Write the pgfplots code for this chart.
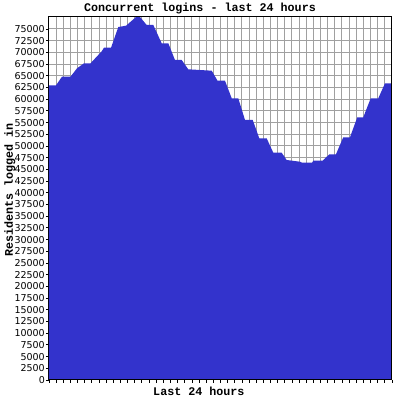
\documentclass[border=0pt]{standalone}
\usepackage{pgfplots}
\pgfplotsset{compat=1.18}
\usepackage{fontspec}
\newfontfamily\monob{Liberation Mono}
\newfontfamily\ticksf{DejaVu Sans}
\definecolor{fillblue}{RGB}{51,51,204}
\definecolor{gridgray}{RGB}{160,160,160}
\begin{document}
\begin{tikzpicture}
\path[use as bounding box] (0pt,0pt) rectangle (400pt,400pt);
\begin{axis}[
  at={(49pt,20pt)}, anchor=south west,
  scale only axis, width=343pt, height=363pt,
  xmin=0, xmax=48, ymin=0, ymax=77564,
  xtick={0,...,48}, xticklabels={},
  ytick={0,2500,...,75000},
  grid=major, grid style={gridgray, line width=1pt},
  axis line style={black, line width=1pt},
  tick pos=left,
  tick align=outside, major tick length=3pt, tick style={black, line width=0.8pt},
  scaled y ticks=false,
  yticklabel style={font=\ticksf\fontsize{9.5}{10}\selectfont, /pgf/number format/1000 sep={}, /pgf/number format/assume math mode=true, inner sep=1pt},
  xlabel={Last 24 hours},
  xlabel style={font=\monob\bfseries\fontsize{11.7}{12}\selectfont, at={(axis description cs:0.437,-0.0427)}, anchor=base},
  ylabel={Residents logged in},
  ylabel style={font=\monob\bfseries\fontsize{11.7}{12}\selectfont, at={(axis description cs:-0.105,0.523)}, anchor=base},
]
\addplot[fill=fillblue, draw=none] coordinates {
(0,62970) (0.98,62970) (1.82,64808) (3.01,64808) (3.92,66603) (4.90,67671) (5.81,67671)
(7.35,70192) (7.70,71004) (8.68,71004) (9.70,75427) (10.78,75705) (12.18,77564) (12.74,77564)
(13.67,75855) (14.60,75855) (15.77,71944) (16.70,71944) (17.63,68376) (18.57,68376)
(19.49,66389) (22.77,66090) (23.58,63953) (24.63,63953) (25.57,60192) (26.49,60192)
(27.43,55556) (28.51,55556) (29.43,51645) (30.46,51645) (31.39,48568) (32.56,48568)
(33.26,47009) (35.12,46645) (35.40,46432) (36.80,46432) (37.01,46859) (38.30,46859)
(39.22,48226) (40.16,48226) (41.18,51859) (42.12,51859) (43.14,56132) (43.98,56132)
(45.02,60192) (46.08,60192) (47.02,63397) (48,63397)
} \closedcycle;
\draw[black, line width=1pt] (rel axis cs:0,0) rectangle (rel axis cs:1,1);
\end{axis}
\node[font=\monob\bfseries\fontsize{11.7}{12}\selectfont, anchor=base, inner sep=0pt] at (200pt,388pt) {Concurrent logins - last 24 hours};
\end{tikzpicture}
\end{document}
